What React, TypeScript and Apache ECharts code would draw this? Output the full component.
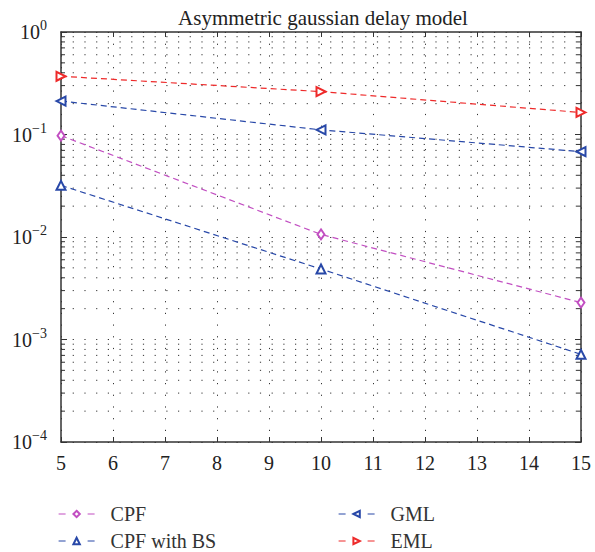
import React, { useEffect, useRef } from "react";
import * as echarts from "echarts";

const xValues = [5, 10, 15];
const cpf = [0.0974, 0.0106, 0.00229];
const cpfBS = [0.0319, 0.00487, 0.000716];
const gml = [0.212, 0.111, 0.068];
const eml = [0.37, 0.262, 0.164];
const xTickLabels = ["5", "6", "7", "8", "9", "10", "11", "12", "13", "14", "15"];
const decades = [-4, -3, -2, -1];
const mantissas = [2, 3, 4, 5, 6, 7, 8, 9];
const minorValues: number[] = [];
decades.forEach((e) => mantissas.forEach((m) => minorValues.push(m * Math.pow(10, e))));

const FONT = "'Liberation Serif', 'DejaVu Serif', serif";
const DOT: number[] = [1.2, 10.5];
const AX = "#333";

function pairs(ys: number[]) {
  return xValues.map((x, i) => [x, ys[i]]);
}

export default function App() {
  const ref = useRef<HTMLDivElement>(null);
  useEffect(() => {
    if (!ref.current) return;
    const chart = echarts.init(ref.current, undefined, { renderer: "svg" });
    const lineStyle = (color: string) => ({ color, width: 1.2, type: [6, 4] as number[] });
    const legendBase = {
      orient: "vertical",
      top: 503,
      padding: 0,
      itemWidth: 36,
      itemHeight: 8,
      itemGap: 5,
      selectedMode: false,
      lineStyle: { type: [7, 22], width: 1.2 },
      textStyle: { fontFamily: FONT, fontSize: 20, color: "#333", lineHeight: 22, padding: [0, 0, 0, 11] },
    };
    chart.setOption({
      animation: false,
      backgroundColor: "#fff",
      title: {
        text: "Asymmetric gaussian delay model",
        left: 318,
        textAlign: "center",
        top: 2,
        textStyle: { fontFamily: FONT, fontSize: 21, fontWeight: "normal", color: "#222" },
      },
      grid: { left: 61, right: 14, top: 32, bottom: 110, containLabel: false },
      legend: [
        { ...legendBase, data: ["CPF", "CPF with BS"], left: 58 },
        { ...legendBase, data: ["GML", "EML"], left: 338 },
      ],
      xAxis: [
        {
          type: "value",
          min: 5,
          max: 15,
          interval: 1,
          position: "bottom",
          axisLine: { lineStyle: { color: AX, width: 1.5 } },
          axisTick: { inside: true, length: 5, lineStyle: { color: AX } },
          axisLabel: {
            fontFamily: FONT,
            fontSize: 20,
            color: "#222",
            margin: 11,
            formatter: (v: number) => xTickLabels[Math.round(v) - 5],
          },
          splitLine: { show: true, lineStyle: { color: AX, type: DOT, width: 1 } },
        },
        {
          type: "value",
          min: 5,
          max: 15,
          interval: 1,
          position: "top",
          axisLine: { lineStyle: { color: AX, width: 1.5 } },
          axisTick: { inside: true, length: 5, lineStyle: { color: AX } },
          axisLabel: { show: false },
          splitLine: { show: false },
        },
      ],
      yAxis: [
        {
          type: "log",
          logBase: 10,
          min: 1e-4,
          max: 1,
          position: "left",
          axisLine: { show: true, lineStyle: { color: AX, width: 1.5 } },
          axisTick: { show: true, inside: true, length: 6, lineStyle: { color: AX } },
          axisLabel: {
            margin: 14,
            formatter: (v: number) => {
              const e = Math.round(Math.log10(v));
              return "{b|10}{s|" + (e < 0 ? "\u2212" + -e : String(e)) + "}";
            },
            rich: {
              b: { fontFamily: FONT, fontSize: 20, color: "#222" },
              s: { fontFamily: FONT, fontSize: 14, color: "#222", padding: [0, 0, 13, 0] },
            },
          },
          splitLine: { show: true, lineStyle: { color: AX, type: DOT, width: 1 } },
        },
        {
          type: "log",
          logBase: 10,
          min: 1e-4,
          max: 1,
          position: "right",
          axisLine: { show: true, lineStyle: { color: AX, width: 1.5 } },
          axisTick: { show: true, inside: true, length: 6, lineStyle: { color: AX } },
          axisLabel: { show: false },
          splitLine: { show: false },
        },
      ],
      series: [
        {
          type: "custom",
          silent: true,
          xAxisIndex: 0,
          yAxisIndex: 0,
          clip: false,
          data: minorValues.map((v) => [5, v]),
          renderItem: (_params: any, api: any) => {
            const v = api.value(1);
            const p1 = api.coord([5, v]);
            const p2 = api.coord([15, v]);
            return {
              type: "group",
              children: [
                {
                  type: "line",
                  shape: { x1: p1[0], y1: p1[1], x2: p2[0], y2: p2[1] },
                  style: { stroke: AX, lineWidth: 1, lineDash: DOT },
                },
                {
                  type: "line",
                  shape: { x1: p1[0], y1: p1[1], x2: p1[0] + 4, y2: p1[1] },
                  style: { stroke: AX, lineWidth: 1 },
                },
                {
                  type: "line",
                  shape: { x1: p2[0] - 4, y1: p2[1], x2: p2[0], y2: p2[1] },
                  style: { stroke: AX, lineWidth: 1 },
                },
              ],
            };
          },
          z: 1,
        },
        {
          name: "CPF",
          type: "line",
          data: pairs(cpf),
          symbol: "emptyDiamond",
          symbolSize: [7, 10],
          color: "#c24fc2",
          lineStyle: lineStyle("#c24fc2"),
          itemStyle: { borderWidth: 1.2 },
          z: 5,
        },
        {
          name: "CPF with BS",
          type: "line",
          data: pairs(cpfBS),
          symbol: "emptyTriangle",
          symbolSize: 9,
          color: "#2848a8",
          lineStyle: lineStyle("#2848a8"),
          itemStyle: { borderWidth: 1.2 },
          z: 5,
        },
        {
          name: "GML",
          type: "line",
          data: pairs(gml),
          symbol: "emptyTriangle",
          symbolSize: 9,
          symbolRotate: 90,
          color: "#2848a8",
          lineStyle: lineStyle("#2848a8"),
          itemStyle: { borderWidth: 1.2 },
          z: 5,
        },
        {
          name: "EML",
          type: "line",
          data: pairs(eml),
          symbol: "emptyTriangle",
          symbolSize: 9,
          symbolRotate: -90,
          color: "#ee2a2a",
          lineStyle: lineStyle("#ee2a2a"),
          itemStyle: { borderWidth: 1.2 },
          z: 5,
        },
      ],
    });
    return () => chart.dispose();
  }, []);
  return <div ref={ref} style={{ width: 595, height: 552, position: "absolute", left: 0, top: 0 }} />;
}
